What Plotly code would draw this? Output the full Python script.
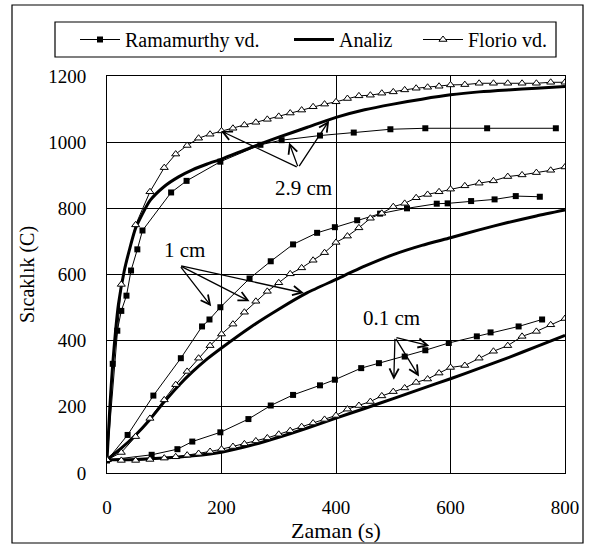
import plotly.graph_objects as go

# ---------------- data ----------------
# Analiz (thick line)
t_an = [0, 5, 10, 15, 20, 30, 40, 50, 75, 100, 125, 150, 175, 200, 250, 300, 350, 400,
        450, 500, 550, 600, 650, 700, 750, 800]
an_29 = [40, 200, 330, 430, 510, 610, 680, 740, 823, 866, 895, 917, 934, 949, 983, 1015, 1045, 1075,
         1098, 1115, 1130, 1143, 1152, 1158, 1163, 1168]
t_an1 = [0, 25, 50, 75, 100, 125, 150, 175, 200, 250, 300, 350, 400, 450, 500, 550, 600, 650, 700, 750, 800]
an_1 = [40, 75, 115, 162, 215, 264, 307, 345, 378, 440, 495, 545, 585, 625, 660, 688, 711, 735, 757, 777, 795]
t_an01 = [0, 50, 100, 150, 200, 250, 300, 350, 400, 450, 500, 550, 600, 650, 700, 750, 800]
an_01 = [40, 41, 45, 52, 63, 83, 108, 136, 166, 195, 225, 255, 285, 316, 348, 382, 416]

# Ramamurthy vd. (filled squares)
t_r29 = [0, 10, 18, 25, 34, 42, 53, 62, 112, 139, 198, 268, 305, 372, 431, 495, 556, 664, 784]
r_29 = [40, 330, 430, 490, 536, 612, 676, 733, 848, 883, 941, 992, 1006, 1020, 1029, 1039, 1042, 1042, 1042]
t_r1 = [0, 36, 81, 129, 166, 179, 198, 249, 286, 325, 367, 398, 437, 477, 524, 576, 595, 636, 677, 714, 756]
r_1 = [38, 115, 234, 347, 443, 464, 501, 588, 640, 691, 726, 743, 764, 784, 800, 814, 815, 822, 827, 837, 835]
t_r01 = [0, 78, 123, 149, 198, 247, 286, 325, 372, 398, 444, 475, 520, 556, 597, 646, 670, 719, 760]
r_01 = [39, 55, 72, 95, 123, 163, 204, 236, 265, 282, 317, 332, 352, 371, 393, 413, 425, 443, 464]

# Florio vd. (open triangles)
t_fl = [0, 25, 50, 75, 100, 120, 140, 160, 180, 200, 220, 240, 260, 280, 300, 320, 340, 360, 380,
        400, 420, 440, 460, 480, 500, 520, 540, 560, 580, 600, 625, 650, 675, 700, 725, 750, 775, 800]
f_29 = [40, 570, 750, 850, 923, 964, 990, 1012, 1024, 1034, 1042, 1052, 1060, 1069, 1078, 1088, 1097, 1107, 1115,
        1122, 1132, 1140, 1142, 1148, 1152, 1158, 1163, 1166, 1169, 1173, 1174, 1178, 1178, 1178, 1178, 1178, 1181, 1181]
f_1 = [40, 62, 110, 165, 221, 267, 307, 347, 385, 420, 450, 486, 519, 549, 575, 602, 620, 643, 666,
       697, 716, 741, 770, 785, 805, 815, 832, 842, 850, 858, 868, 876, 883, 896, 901, 908, 915, 925]
f_01 = [40, 38, 38, 41, 45, 49, 54, 59, 65, 72, 80, 88, 97, 106, 117, 128, 140, 151, 162,
        174, 193, 204, 216, 233, 246, 257, 274, 284, 302, 319, 325, 347, 368, 385, 413, 428, 448, 467]

x_ticks = [0, 200, 400, 600, 800]
y_ticks = [0, 200, 400, 600, 800, 1000, 1200]

# annotation labels: (text, text_t, text_T, apex_t, apex_T, [(head_t, head_T), ...])
labels = [
    ("2.9 cm", 343, 860, 334, 923, [(199, 1034), (318, 999), (388, 1065)]),
    ("1 cm", 136, 673, 127, 627, [(182, 504), (249, 519), (344, 544)]),
    ("0.1 cm", 497, 470, 503, 410, [(563, 385), (501, 282), (545, 292)]),
]

FONT = "Liberation Serif, Times New Roman, Times, serif"
fig = go.Figure()

sq = dict(symbol="square", size=6, color="black")
tri = dict(symbol="triangle-up", size=7, color="white", line=dict(color="black", width=1))

for i, (tx, ty) in enumerate([(t_r29, r_29), (t_r1, r_1), (t_r01, r_01)]):
    fig.add_trace(go.Scatter(x=tx, y=ty, mode="lines+markers", name="Ramamurthy vd.",
                             line=dict(color="black", width=1), marker=sq,
                             legend="legend", showlegend=(i == 0)))
for i, (tx, ty) in enumerate([(t_an, an_29), (t_an1, an_1), (t_an01, an_01)]):
    fig.add_trace(go.Scatter(x=tx, y=ty, mode="lines", name="Analiz",
                             line=dict(color="black", width=3, shape="spline", smoothing=0.6),
                             legend="legend2", showlegend=(i == 0)))
for i, ty in enumerate([f_29, f_1, f_01]):
    fig.add_trace(go.Scatter(x=t_fl, y=ty, mode="lines+markers", name="Florio vd.",
                             line=dict(color="black", width=1), marker=tri,
                             legend="legend3", showlegend=(i == 0)))

for text, tx, ty, apx, apy, heads in labels:
    fig.add_annotation(x=tx, y=ty, text=text, showarrow=False,
                       font=dict(family=FONT, size=21, color="black"))
    for hx, hy in heads:
        fig.add_annotation(x=hx, y=hy, ax=apx, ay=apy, axref="x", ayref="y", text="",
                           showarrow=True, arrowhead=5, arrowsize=1.4, arrowwidth=1.3,
                           arrowcolor="black")

# plot geometry in px (for paper placement of frame / legend)
L, R, T, B = 107, 565, 76, 473
W, H = R - L, B - T


def px(x):
    return (x - L) / W


def py(y):
    return (B - y) / H


# outer frame and legend box
fig.add_shape(type="rect", xref="paper", yref="paper",
              x0=px(12), x1=px(583), y0=py(543), y1=py(5),
              line=dict(color="black", width=1.2), fillcolor="rgba(0,0,0,0)", layer="below")
fig.add_shape(type="rect", xref="paper", yref="paper",
              x0=px(55), x1=px(556), y0=py(57), y1=py(22),
              line=dict(color="black", width=1.2), fillcolor="white", layer="below")

leg_common = dict(orientation="h", yanchor="middle", xanchor="left", y=py(39.5),
                  bgcolor="rgba(0,0,0,0)", borderwidth=0,
                  font=dict(family=FONT, size=20, color="black"), itemwidth=40)

fig.update_layout(
    width=603, height=550,
    margin=dict(l=L, r=603 - R, t=T, b=550 - B),
    paper_bgcolor="white", plot_bgcolor="white",
    font=dict(family=FONT, size=19, color="black"),
    showlegend=True,
    legend=dict(x=px(75), **leg_common),
    legend2=dict(x=px(289), **leg_common),
    legend3=dict(x=px(418), **leg_common),
)
fig.update_xaxes(range=[0, 800], tickvals=x_ticks, showgrid=True, gridcolor="black", gridwidth=1,
                 showline=True, linecolor="black", linewidth=1, mirror=True, zeroline=False,
                 ticks="", ticklabelstandoff=17, tickfont=dict(size=19),
                 title=dict(text="Zaman (s)", font=dict(family=FONT, size=22), standoff=4))
fig.update_yaxes(range=[0, 1200], tickvals=y_ticks, showgrid=True, gridcolor="black", gridwidth=1,
                 showline=True, linecolor="black", linewidth=1, mirror=True, zeroline=False,
                 ticks="", ticklabelstandoff=16, tickfont=dict(size=19),
                 title=dict(text="Sıcaklık (C)", font=dict(family=FONT, size=20), standoff=8))

fig.write_html("out.html")
